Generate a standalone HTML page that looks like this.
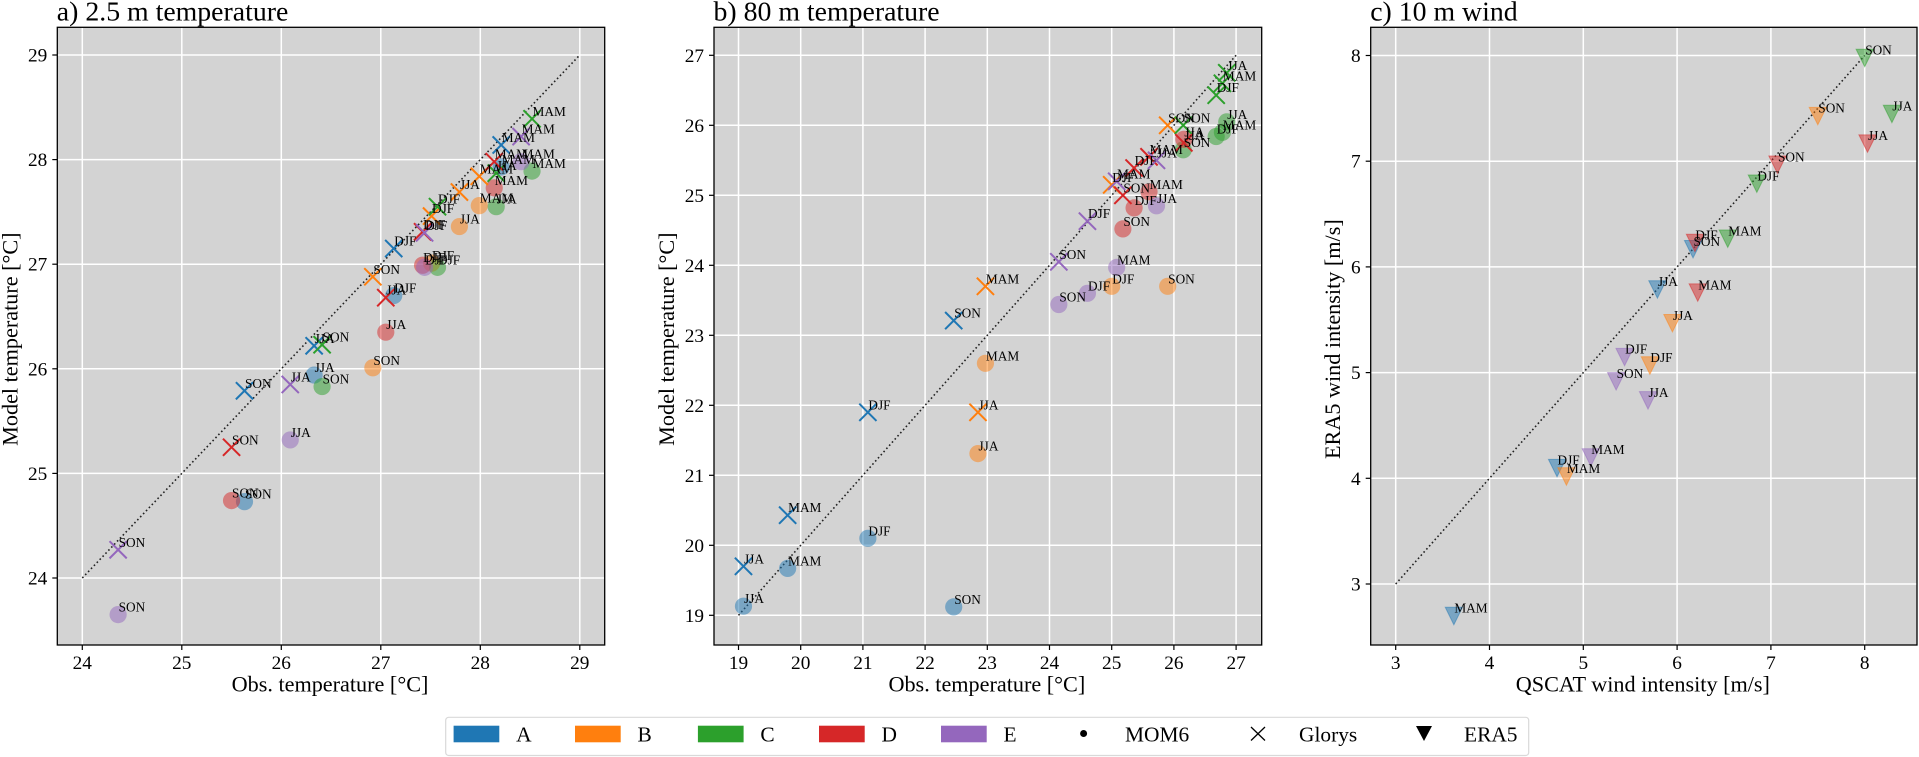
<!DOCTYPE html>
<html lang="en">
<head>
<meta charset="utf-8">
<title>Model vs observed temperature and wind</title>
<style>
html,body{margin:0;padding:0;background:#fff;width:1919px;height:757px;overflow:hidden}
svg{display:block;font-family:"Liberation Serif",serif}
</style>
</head>
<body>
<svg id="fig" width="1919" height="757" viewBox="0 0 1919 757" xmlns="http://www.w3.org/2000/svg"></svg>
<script>
const seasons = ['DJF','MAM','JJA','SON'];
const groups = ['A','B','C','D','E'];
const groupColors = ['#1f77b4','#ff7f0e','#2ca02c','#d62728','#9467bd'];

// a) 2.5 m temperature (order: DJF, MAM, JJA, SON)
const t25ObsA = [27.13,28.21,26.33,25.63];
const t25ObsB = [27.51,27.99,27.79,26.92];
const t25ObsC = [27.57,28.52,28.16,26.41];
const t25ObsD = [27.42,28.14,27.05,25.50];
const t25ObsE = [27.44,28.41,26.09,24.36];
const t25MomA = [26.70,27.93,25.94,24.73];
const t25MomB = [27.01,27.56,27.36,26.01];
const t25MomC = [26.97,27.89,27.55,25.83];
const t25MomD = [26.99,27.73,26.35,24.74];
const t25MomE = [26.97,27.98,25.32,23.65];
const t25GloA = [27.15,28.14,26.22,25.79];
const t25GloB = [27.46,27.84,27.69,26.88];
const t25GloC = [27.55,28.39,27.87,26.23];
const t25GloD = [27.31,27.98,26.68,25.25];
const t25GloE = [27.30,28.22,25.85,24.27];

// b) 80 m temperature
const t80ObsA = [21.08,19.79,19.08,22.46];
const t80ObsB = [25.00,22.97,22.85,25.90];
const t80ObsC = [26.68,26.78,26.85,26.15];
const t80ObsD = [25.36,25.60,26.16,25.18];
const t80ObsE = [24.61,25.08,25.72,24.15];
const t80MomA = [20.10,19.67,19.13,19.12];
const t80MomB = [23.70,22.60,21.31,23.70];
const t80MomC = [25.84,25.90,26.05,25.65];
const t80MomD = [24.82,25.05,25.80,24.52];
const t80MomE = [23.60,23.97,24.85,23.44];
const t80GloA = [21.90,20.43,19.70,23.21];
const t80GloB = [25.15,23.70,21.90,26.00];
const t80GloC = [26.43,26.60,26.75,26.00];
const t80GloD = [25.39,25.55,25.75,25.00];
const t80GloE = [24.63,25.20,25.50,24.05];

// c) 10 m wind
const windObsA = [4.72,3.62,5.79,6.17];
const windObsB = [5.71,4.82,5.95,7.50];
const windObsC = [6.85,6.54,8.29,8.00];
const windObsD = [6.19,6.22,8.03,7.07];
const windObsE = [5.44,5.08,5.69,5.35];
const windEraA = [4.10,2.70,5.79,6.17];
const windEraB = [5.07,4.02,5.47,7.43];
const windEraC = [6.79,6.27,7.45,7.98];
const windEraD = [6.23,5.76,7.17,6.97];
const windEraE = [5.15,4.20,4.74,4.92];

const t25Ticks = [24,25,26,27,28,29];
const t80Ticks = [19,20,21,22,23,24,25,26,27];
const windTicks = [3,4,5,6,7,8];

const legendLabels = ['A','B','C','D','E'];
const NS = 'http://www.w3.org/2000/svg';
const fig = document.getElementById('fig');

function mk(parent, tag, attrs, name, text) {
  const el = document.createElementNS(NS, tag);
  for (const k in attrs) el.setAttribute(k, attrs[k]);
  
  
  if (text !== undefined) el.textContent = text;
  parent.appendChild(el);
  return el;
}

function drawMarker(g, kind, px, py, color, name) {
  if (kind === 'circle') {
    mk(g, 'circle', {cx:px, cy:py, r:8.6, fill:color, 'fill-opacity':0.5}, name);
  } else if (kind === 'x') {
    const h = 8.6;
    mk(g, 'path', {d:`M${px-h} ${py-h}L${px+h} ${py+h}M${px-h} ${py+h}L${px+h} ${py-h}`, stroke:color, 'stroke-width':2, fill:'none'}, name);
  } else {
    mk(g, 'path', {d:`M${px-8.6} ${py-8.4}L${px+8.6} ${py-8.4}L${px} ${py+9}Z`, fill:color, 'fill-opacity':0.5, stroke:color, 'stroke-opacity':0.5, 'stroke-width':1}, name);
  }
}

function drawPanel(cfg) {
  const g = mk(fig, 'g', {}, cfg.id + '-panel');
  const L = cfg.left, R = cfg.right, T = 27.3, B = 645;
  const sx = v => cfg.x0 + (v - cfg.ticks[0]) * cfg.kx;
  const sy = v => cfg.y0 - (v - cfg.ticks[0]) * cfg.ky;
  mk(g, 'rect', {x:L, y:T, width:R-L, height:B-T, fill:'#d3d3d3'}, cfg.id + '-plot-background');
  const grid = mk(g, 'g', {stroke:'#fff','stroke-width':1.5}, cfg.id + '-grid');
  cfg.ticks.forEach(t => {
    mk(grid, 'line', {x1:sx(t), x2:sx(t), y1:T, y2:B}, cfg.id + '-gridline-x');
    mk(grid, 'line', {x1:L, x2:R, y1:sy(t), y2:sy(t)}, cfg.id + '-gridline-y');
  });
  const first = cfg.ticks[0], last = cfg.ticks[cfg.ticks.length-1];
  mk(g, 'line', {x1:sx(first), y1:sy(first), x2:sx(last), y2:sy(last), stroke:'#222', 'stroke-width':1.6, 'stroke-dasharray':'1.6 2.6'}, cfg.id + '-one-to-one-line');

  const marks = mk(g, 'g', {}, cfg.id + '-markers');
  const labels = mk(g, 'g', {'font-size':13.3, fill:'#000'}, cfg.id + '-point-labels');
  cfg.series.forEach(s => {
    groups.forEach((grp, gi) => {
      seasons.forEach((sea, i) => {
        const px = sx(cfg.obs[gi][i]), py = sy(s.vals[gi][i]);
        drawMarker(marks, s.kind, px, py, groupColors[gi], `${s.name}-${grp}-${sea}`);
        mk(labels, 'text', {x:px+0.5, y:py-3}, `label-${s.name}-${grp}-${sea}`, sea);
      });
    });
  });

  mk(g, 'rect', {x:L, y:T, width:R-L, height:B-T, fill:'none', stroke:'#000', 'stroke-width':1.3}, cfg.id + '-axes-frame');
  const ticks = mk(g, 'g', {stroke:'#000','stroke-width':1.2}, cfg.id + '-tick-marks');
  const tl = mk(g, 'g', {'font-size':19.3, fill:'#000'}, cfg.id + '-tick-labels');
  cfg.ticks.forEach(t => {
    mk(ticks, 'line', {x1:sx(t), x2:sx(t), y1:B, y2:B+5}, cfg.id + '-x-tick');
    mk(ticks, 'line', {x1:L-5, x2:L, y1:sy(t), y2:sy(t)}, cfg.id + '-y-tick');
    mk(tl, 'text', {x:sx(t), y:B+24, 'text-anchor':'middle'}, cfg.id + '-x-tick-label', String(t));
    mk(tl, 'text', {x:L-10, y:sy(t)+6.5, 'text-anchor':'end'}, cfg.id + '-y-tick-label', String(t));
  });
  mk(g, 'text', {x:L-0.5, y:20.5, 'font-size':27.8, fill:'#000'}, cfg.id + '-title', cfg.title);
  mk(g, 'text', {x:(L+R)/2-1, y:691.5, 'font-size':22.2, fill:'#000', 'text-anchor':'middle'}, cfg.id + '-x-axis-title', cfg.xlabel);
  mk(g, 'text', {transform:`translate(${cfg.ylabelX},${(T+B)/2+3}) rotate(-90)`, 'font-size':22.2, fill:'#000', 'text-anchor':'middle'}, cfg.id + '-y-axis-title', cfg.ylabel);
}

drawPanel({
  id:'temp-2-5m', title:'a) 2.5 m temperature', xlabel:'Obs. temperature [°C]', ylabel:'Model temperature [°C]',
  left:57.3, right:604.7, x0:82.3, kx:99.5, y0:578, ky:104.6, ylabelX:17.5, ticks:t25Ticks,
  obs:[t25ObsA,t25ObsB,t25ObsC,t25ObsD,t25ObsE],
  series:[
    {name:'mom6', kind:'circle', vals:[t25MomA,t25MomB,t25MomC,t25MomD,t25MomE]},
    {name:'glorys', kind:'x', vals:[t25GloA,t25GloB,t25GloC,t25GloD,t25GloE]}
  ]
});
drawPanel({
  id:'temp-80m', title:'b) 80 m temperature', xlabel:'Obs. temperature [°C]', ylabel:'Model temperature [°C]',
  left:714, right:1261.7, x0:738.5, kx:62.2, y0:615.3, ky:70, ylabelX:674, ticks:t80Ticks,
  obs:[t80ObsA,t80ObsB,t80ObsC,t80ObsD,t80ObsE],
  series:[
    {name:'mom6', kind:'circle', vals:[t80MomA,t80MomB,t80MomC,t80MomD,t80MomE]},
    {name:'glorys', kind:'x', vals:[t80GloA,t80GloB,t80GloC,t80GloD,t80GloE]}
  ]
});
drawPanel({
  id:'wind-10m', title:'c) 10 m wind', xlabel:'QSCAT wind intensity [m/s]', ylabel:'ERA5 wind intensity [m/s]',
  left:1370.7, right:1917, x0:1395.7, kx:93.8, y0:584, ky:105.7, ylabelX:1340, ticks:windTicks,
  obs:[windObsA,windObsB,windObsC,windObsD,windObsE],
  series:[
    {name:'era5', kind:'tri', vals:[windEraA,windEraB,windEraC,windEraD,windEraE]}
  ]
});

// Legend
const lg = mk(fig, 'g', {}, 'legend');
mk(lg, 'rect', {x:445.7, y:717.3, width:1083, height:38.2, rx:3, fill:'#fff', stroke:'#d9d9d9', 'stroke-width':1.2}, 'legend-frame');
const patchX = [453.6,575,697.9,819,941];
const legText = {'font-size':21.4, fill:'#000'};
legendLabels.forEach((lab, i) => {
  mk(lg, 'rect', {x:patchX[i], y:725.7, width:45.7, height:16.6, fill:groupColors[i]}, 'legend-swatch-' + lab);
  mk(lg, 'text', Object.assign({x:patchX[i]+62.5, y:741.7}, legText), 'legend-label-' + lab, lab);
});
mk(lg, 'circle', {cx:1083.6, cy:733.5, r:3.5, fill:'#000'}, 'legend-marker-mom6');
mk(lg, 'text', Object.assign({x:1125, y:741.7}, legText), 'legend-label-mom6', 'MOM6');
mk(lg, 'path', {d:'M1251 727L1265 740.5M1251 740.5L1265 727', stroke:'#000','stroke-width':1.3, fill:'none'}, 'legend-marker-glorys');
mk(lg, 'text', Object.assign({x:1299, y:741.7}, legText), 'legend-label-glorys', 'Glorys');
mk(lg, 'path', {d:'M1416 726L1432 726L1424 741Z', fill:'#000'}, 'legend-marker-era5');
mk(lg, 'text', Object.assign({x:1464, y:741.7}, legText), 'legend-label-era5', 'ERA5');
</script>
</body>
</html>
